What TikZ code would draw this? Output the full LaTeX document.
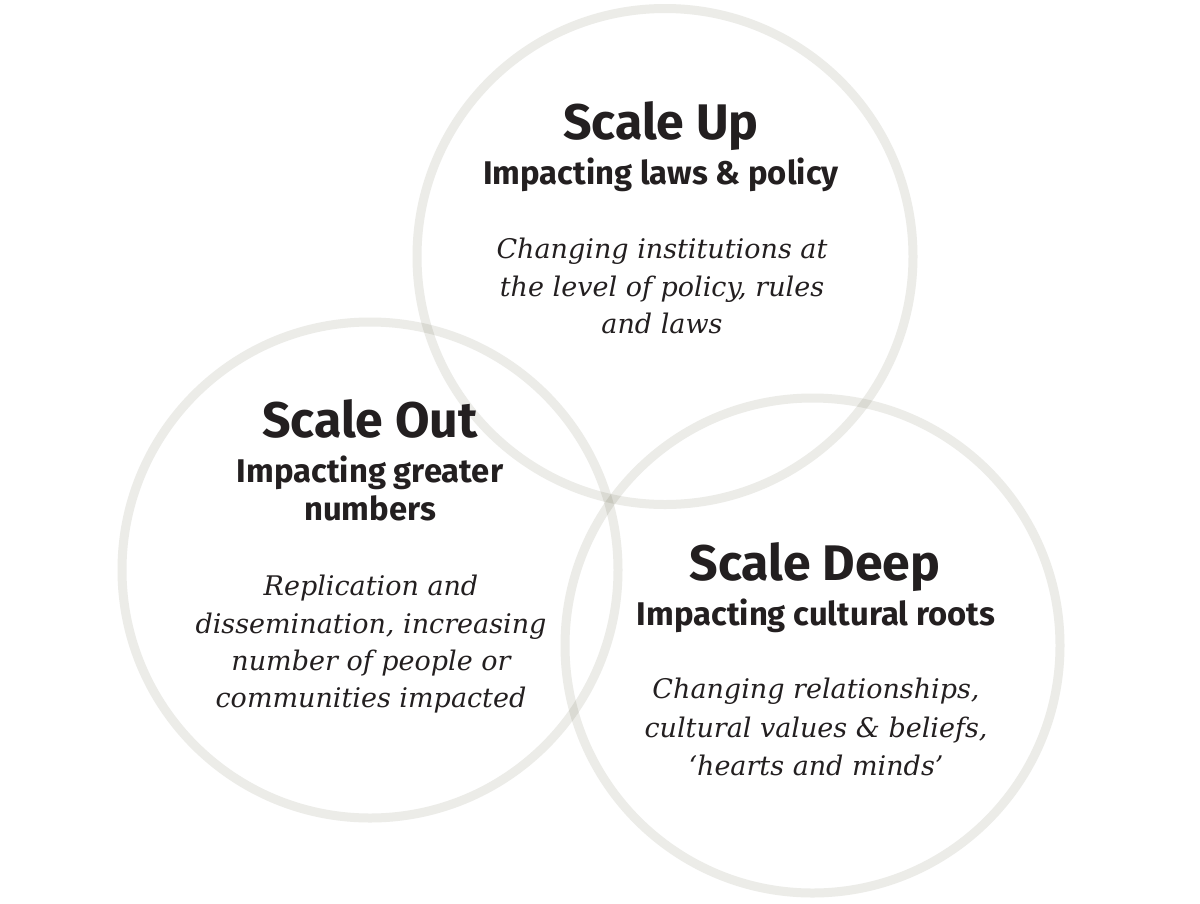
\documentclass[tikz,border=0pt]{standalone}
\usepackage{fontspec}
\setmainfont{DejaVu Serif}
\newfontfamily\headfont{Fira Sans}
\newfontfamily\bodyfont{DejaVu Serif}
\definecolor{ring}{HTML}{ECECE8}
\definecolor{ink}{HTML}{231F20}
\tikzset{
  ring/.style={draw=ring, line width=9pt, blend mode=multiply},
  title/.style={anchor=base, text=ink, inner sep=0pt, font=\headfont\bfseries\fontsize{50}{60}\selectfont},
  subtitle/.style={anchor=base, text=ink, inner sep=0pt, font=\headfont\bfseries\fontsize{32.8}{38}\selectfont},
  body/.style={anchor=base, text=ink, inner sep=0pt, font=\bodyfont\itshape\fontsize{27}{32}\selectfont}
}
\begin{document}
\begin{tikzpicture}[x=1pt,y=-1pt]
\useasboundingbox[fill=white] (0,0) rectangle (1200,903);
\begin{scope}[transparency group]
\draw[ring] (665,256.5) circle[radius=248];
\draw[ring] (370,570) circle[radius=248];
\draw[ring] (812.5,645.5) circle[radius=247.5];
\end{scope}
% top
\node[title] (upT) at (661,139) {Scale Up};
\node[subtitle] (upS) at (661,184) {Impacting laws \& policy};
\node[body] (upB1) at (662,258) {Changing institutions at};
\node[body] (upB2) at (662,296) {the level of policy, rules};
\node[body] (upB3) at (662,333) {and laws};
% left
\node[title] (outT) at (370,437) {Scale Out};
\node[subtitle] (outS) at (370,482) {Impacting greater};
\node[subtitle] (outS2) at (370,520) {numbers};
\node[body] (outB1) at (371,595) {Replication and};
\node[body] (outB2) at (371,633) {dissemination, increasing};
\node[body] (outB3) at (371,670) {number of people or};
\node[body] (outB4) at (371,707) {communities impacted};
% right
\node[title] (deepT) at (815,580) {Scale Deep};
\node[subtitle] (deepS) at (816,625) {Impacting cultural roots};
\node[body] (deepB1) at (816,698) {Changing relationships,};
\node[body] (deepB2) at (816,737) {cultural values \& beliefs,};
\node[body] (deepB3) at (816,775) {‘hearts and minds’};
\end{tikzpicture}
\end{document}
